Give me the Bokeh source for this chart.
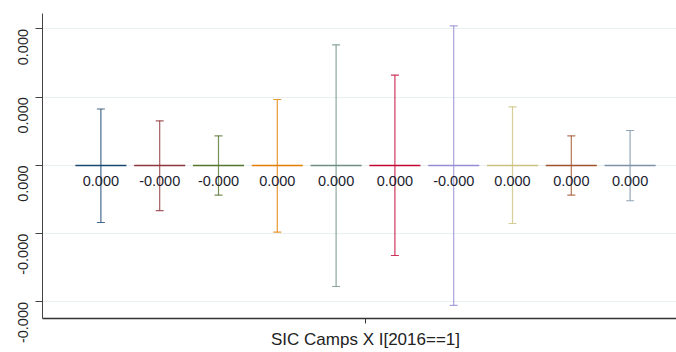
import math
from bokeh.plotting import figure
from bokeh.models import Range1d, FixedTicker, PrintfTickFormatter, ColumnDataSource
from bokeh.core.properties import value
from bokeh.embed import file_html
from bokeh.resources import INLINE

# ---- data ----
xpos = [0.55, 0.65, 0.75, 0.85, 0.95, 1.05, 1.15, 1.25, 1.35, 1.45]
coef = [0.000000010, -0.000000008, -0.000000006, 0.000000007, 0.000000005,
        0.000000009, -0.000000012, 0.000000006, 0.000000004, 0.000000003]
ci_hi = [0.0000828, 0.0000655, 0.0000435, 0.0000967, 0.0001768,
         0.0001323, 0.0002047, 0.0000860, 0.0000435, 0.0000513]
ci_lo = [-0.0000835, -0.0000660, -0.0000435, -0.0000977, -0.0001773,
         -0.0001319, -0.0002050, -0.0000850, -0.0000435, -0.0000517]
colors = ["#1a476f", "#90353b", "#55752f", "#e37e00", "#6e8e84",
          "#c10534", "#938dd2", "#cac27e", "#a0522d", "#7b92a8"]
y_ticks = [-0.0002, -0.0001, 0.0, 0.0001, 0.0002]
x_tick = [1.0]
x_tick_label = "SIC Camps X I[2016==1]"

labels = [f"{v:.3f}" for v in coef]
half_bar = 0.0434
half_cap = 0.0068

src = ColumnDataSource(dict(
    x=xpos, coef=coef, hi=ci_hi, lo=ci_lo, color=colors, label=labels,
    x0=[x - half_bar for x in xpos], x1=[x + half_bar for x in xpos],
    c0=[x - half_cap for x in xpos], c1=[x + half_cap for x in xpos],
))

p = figure(width=676, height=352, output_backend="svg", toolbar_location=None,
           x_range=Range1d(0.4507, 1.5289), y_range=Range1d(-0.0002242, 0.0002227),
           min_border_left=42, min_border_right=0, min_border_top=13, min_border_bottom=34)
p.outline_line_color = None
p.background_fill_color = "white"
p.border_fill_color = "white"

# grid
p.xgrid.visible = False
p.ygrid.ticker = FixedTicker(ticks=y_ticks)
p.ygrid.grid_line_color = "#e8f0f1"
p.ygrid.grid_line_width = 1

# y axis
ya = p.yaxis[0]
ya.ticker = FixedTicker(ticks=y_ticks)
ya.formatter = PrintfTickFormatter(format="%.3f")
ya.major_label_orientation = math.pi / 2
ya.major_label_text_font = "Liberation Sans"
ya.major_label_text_font_size = "14.5px"
ya.major_label_text_color = "#222222"
ya.major_tick_out = 7
ya.major_tick_in = 0
ya.minor_tick_out = 0
ya.minor_tick_in = 0
ya.major_label_standoff = 12
ya.axis_line_color = "#444444"
ya.major_tick_line_color = "#444444"

# x axis
xa = p.xaxis[0]
xa.ticker = FixedTicker(ticks=x_tick)
xa.major_label_overrides = {1: x_tick_label}
xa.major_label_text_font = "Liberation Sans"
xa.major_label_text_font_size = "17px"
xa.major_label_text_color = "#222222"
xa.major_tick_out = 5
xa.major_tick_in = 0
xa.minor_tick_out = 0
xa.minor_tick_in = 0
xa.major_label_standoff = 6
xa.axis_line_color = "#333333"
xa.axis_line_width = 1.5
xa.major_tick_line_color = "#333333"

# error bars
p.segment(x0="x", y0="lo", x1="x", y1="hi", source=src, line_color="color",
          line_width=1.2, line_alpha=0.8)
p.segment(x0="c0", y0="hi", x1="c1", y1="hi", source=src, line_color="color",
          line_width=1.2, line_alpha=0.8)
p.segment(x0="c0", y0="lo", x1="c1", y1="lo", source=src, line_color="color",
          line_width=1.2, line_alpha=0.8)
# coefficient bars
p.segment(x0="x0", y0="coef", x1="x1", y1="coef", source=src, line_color="color",
          line_width=1.5)
# value labels
p.text(x="x", y="coef", text="label", source=src, text_align="center",
       text_baseline="middle", y_offset=16, text_font=value("Liberation Sans"),
       text_font_size="14.5px", text_color="#1c1c30")

open("out.html", "w").write(file_html(p, INLINE))
